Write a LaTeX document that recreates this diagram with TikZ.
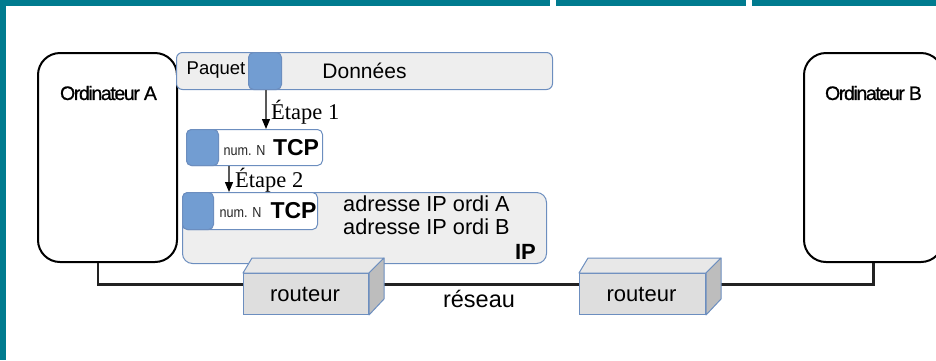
\documentclass[tikz,border=0pt]{standalone}
\usepackage{fontspec}
\setmainfont{Liberation Sans}
\newfontfamily\etapefont{Liberation Serif}
\newfontfamily\compfont[LetterSpace=-7,FakeBold=0.8]{Liberation Sans}
\newfontfamily\numfont[FakeStretch=0.87]{Liberation Sans}
\usetikzlibrary{arrows.meta,calc}

\definecolor{framecol}{HTML}{007B8F}
\definecolor{edgeblue}{HTML}{6C8EBF}
\definecolor{tabblue}{HTML}{729DD2}
\definecolor{packfill}{HTML}{EEEEEE}
\definecolor{frontgray}{HTML}{DEDEDE}
\definecolor{topgray}{HTML}{E8E8E8}
\definecolor{sidegray}{HTML}{BDBDBD}
\definecolor{netline}{HTML}{222222}

\tikzset{
  fs/.style={font=\fontsize{#1}{#1}\selectfont},
  fsb/.style={font=\bfseries\fontsize{#1}{#1}\selectfont},
  compbox/.style={draw=black, line width=2pt, rounded corners=22pt,
    fill=white, anchor=north west, inner sep=0pt},
  packbox/.style={draw=edgeblue, line width=1pt, fill=packfill,
    anchor=north west, inner sep=0pt},
  tcpbox/.style={draw=edgeblue, line width=1pt, fill=white,
    rounded corners=5pt, anchor=north west, inner sep=0pt},
  tabbox/.style={draw=edgeblue, line width=1pt, fill=tabblue,
    rounded corners=5pt, anchor=north west, inner sep=0pt},
  routerfront/.style={draw=edgeblue, line width=1pt, fill=frontgray,
    anchor=north west, inner sep=0pt, minimum width=125, minimum height=41},
  routerface/.style={draw=edgeblue, line width=1pt, line join=round},
  steparrow/.style={draw=black!65, line width=1.3pt,
    -{Triangle[width=8pt,length=10pt,color=black]}},
  net/.style={draw=netline, line width=2.2pt},
  plain/.style={inner sep=0pt, text=black},
  numlabel/.style={inner sep=0pt, text=black!85,
    font=\numfont\fontsize{14.5}{14.5}\selectfont},
}

\begin{document}
\begin{tikzpicture}[x=1pt,y=-1pt]
\useasboundingbox (0,0) rectangle (936,360);

% window frame
\fill[framecol] (0,0) rectangle (936,5.7);
\fill[framecol] (0,0) rectangle (6,360);
\fill[white] (549.5,0) rectangle (555.5,5.7);
\fill[white] (746,0) rectangle (752,5.7);

% the two computers
\node[compbox, minimum width=139, minimum height=209] (ordA) at (37,52) {};
\node[compbox, minimum width=139, minimum height=209] (ordB) at (803,52) {};
\node[plain, fs=19.5] (labA) at (108.5,93) {\compfont Ordinateur A};
\node[plain, fs=19.5] (labB) at (873.5,93) {\compfont Ordinateur B};

% data packet
\node[packbox, rounded corners=6pt, minimum width=376, minimum height=37] (pack) at (176,52) {};
\node[tabbox, minimum width=33, minimum height=37] (tab0) at (248,52) {};
\node[plain, fs=18.5] (paq) at (216,70) {Paquet};
\node[plain, fs=21] (don) at (364.5,71) {Données};

% TCP segment
\node[tcpbox, minimum width=136, minimum height=36] (tcp1) at (186,129) {};
\node[tabbox, minimum width=32, minimum height=36] (tab1) at (186,129) {};
\node[numlabel] (num1) at (244.5,150.5) {num. N};
\node[plain, fsb=23] (tcpl1) at (296,148) {TCP};

% IP datagram
\node[packbox, rounded corners=10pt, minimum width=364, minimum height=71] (ip) at (182,192) {};
\node[tcpbox, minimum width=135, minimum height=37] (tcp2) at (182,192) {};
\node[tabbox, minimum width=31, minimum height=37] (tab2) at (182,192) {};
\node[numlabel] (num2) at (240.5,212.5) {num. N};
\node[plain, fsb=23] (tcpl2) at (293.5,211) {TCP};
\node[plain, fs=21.7, anchor=west] (adrA) at (343,204) {adresse IP ordi A};
\node[plain, fs=21.7, anchor=west] (adrB) at (343,227) {adresse IP ordi B};
\node[plain, fsb=22, anchor=east] (ipl) at (536,252) {IP};

% encapsulation steps
\draw[steparrow] (tab0.south -| 266,0) -- (266,0 |- tcp1.north);
\node[plain, fs=22.5, anchor=west] (et1) at (271,112.5) {\etapefont Étape 1};
\draw[steparrow] (229,0 |- tcp1.south) -- (229,0 |- ip.north);
\node[plain, fs=22.5, anchor=west] (et2) at (235,180) {\etapefont Étape 2};

% routers (front face as node, top and side faces drawn on it)
\node[routerfront] (r1) at (243,273) {};
\node[routerfront, minimum width=126] (r2) at (579,273) {};

% network cabling
\draw[net] ([xshift=-9.5pt]ordA.south) |- ([yshift=9.5pt]r1.west);
\draw[net] ([xshift=15pt,yshift=9.5pt]r1.east) -- ([yshift=9.5pt]r2.west);
\draw[net] ([xshift=15pt,yshift=9.5pt]r2.east) -| (ordB.south);

\foreach \r in {r1,r2}{
  \draw[routerface, fill=topgray] (\r.north west) -- ++(9,-15) -- ($(\r.north east)+(15,-15)$) -- (\r.north east) -- cycle;
  \draw[routerface, fill=sidegray] (\r.north east) -- ++(15,-15) -- ++(0,41) -- (\r.south east) -- cycle;
}
\node[plain, fs=22] (rt1) at ([xshift=-1pt]r1.center) {routeur};
\node[plain, fs=22] (rt2) at ([xshift=-1pt]r2.center) {routeur};
\node[plain, fs=23.5] (res) at (479,299) {réseau};
\end{tikzpicture}
\end{document}
